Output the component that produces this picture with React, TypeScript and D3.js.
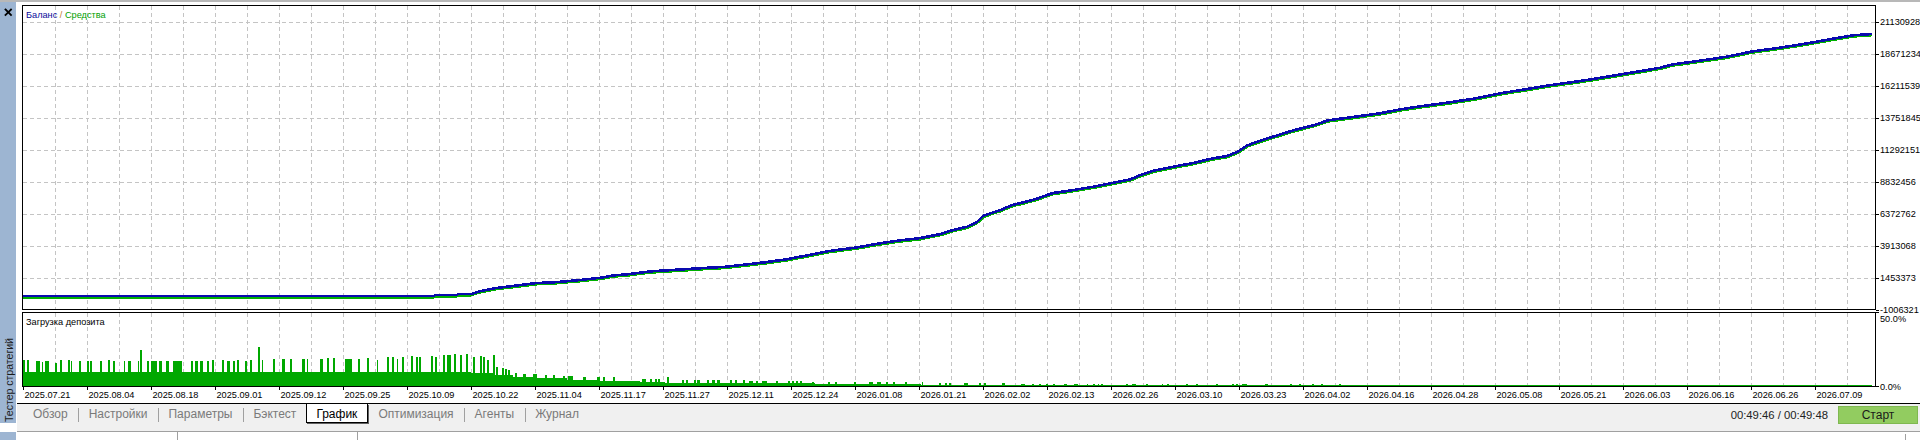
import React, { useEffect, useMemo } from 'react';
import * as d3 from 'd3';

// ---------- data ----------
const dateLabels = [
  '2025.07.21', '2025.08.04', '2025.08.18', '2025.09.01', '2025.09.12', '2025.09.25',
  '2025.10.09', '2025.10.22', '2025.11.04', '2025.11.17', '2025.11.27', '2025.12.11',
  '2025.12.24', '2026.01.08', '2026.01.21', '2026.02.02', '2026.02.13', '2026.02.26',
  '2026.03.10', '2026.03.23', '2026.04.02', '2026.04.16', '2026.04.28', '2026.05.08',
  '2026.05.21', '2026.06.03', '2026.06.16', '2026.06.26', '2026.07.09',
];

const balanceTicks = [
  21130928, 18671234, 16211539, 13751845, 11292151, 8832456, 6372762, 3913068, 1453373, -1006321,
];

const loadTicks = [50, 0];

// positions along the date axis (label units)
const curveX = [
  0, 6.42, 6.44, 6.78, 6.8, 7.0, 7.125, 7.39, 7.73, 8.02,
  8.34, 8.69, 9.02, 9.23, 9.47, 9.8, 10.25, 10.69, 10.97, 11.25,
  11.58, 11.92, 12.25, 12.59, 13.03, 13.38, 13.7, 14.02, 14.33, 14.53,
  14.75, 14.91, 15.0, 15.11, 15.27, 15.47, 15.63, 15.84, 16.0, 16.09,
  16.41, 16.72, 17.03, 17.3, 17.45, 17.66, 17.97, 18.28, 18.59, 18.81,
  18.97, 19.13, 19.33, 19.59, 19.84, 20.19, 20.39, 20.66, 21.0, 21.2,
  21.52, 21.83, 22.25, 22.66, 23.08, 23.5, 23.91, 24.33, 24.75, 25.16,
  25.58, 25.78, 26.2, 26.62, 27.03, 27.45, 27.88, 28.28, 28.59, 28.89,
];

const balance = [
  27000, 27000, 104000, 104000, 181000, 181000, 389000, 644000, 852000, 1029000,
  1106000, 1261000, 1438000, 1623000, 1723000, 1932000, 2070000, 2209000, 2286000, 2440000,
  2625000, 2857000, 3165000, 3497000, 3782000, 4090000, 4322000, 4499000, 4808000, 5116000,
  5370000, 5756000, 6195000, 6404000, 6658000, 7067000, 7252000, 7529000, 7815000, 7969000,
  8200000, 8455000, 8763000, 9025000, 9334000, 9688000, 9997000, 10282000, 10645000, 10822000,
  11130000, 11647000, 12002000, 12403000, 12788000, 13235000, 13575000, 13752000, 13983000, 14114000,
  14423000, 14654000, 14932000, 15240000, 15656000, 15988000, 16320000, 16605000, 16936000, 17276000,
  17630000, 17892000, 18170000, 18478000, 18895000, 19172000, 19512000, 19866000, 20129000, 20229000,
];

const equity = [
  -63000, -63000, 14000, 14000, 91000, 91000, 299000, 554000, 762000, 939000,
  1016000, 1171000, 1348000, 1533000, 1633000, 1842000, 1980000, 2119000, 2196000, 2350000,
  2535000, 2767000, 3075000, 3407000, 3692000, 4000000, 4232000, 4409000, 4718000, 5026000,
  5280000, 5666000, 6105000, 6314000, 6568000, 6977000, 7162000, 7439000, 7725000, 7879000,
  8110000, 8365000, 8673000, 8935000, 9244000, 9598000, 9907000, 10192000, 10555000, 10732000,
  11040000, 11557000, 11912000, 12313000, 12698000, 13145000, 13485000, 13662000, 13893000, 14024000,
  14333000, 14564000, 14842000, 15150000, 15566000, 15898000, 16230000, 16515000, 16846000, 17186000,
  17540000, 17802000, 18080000, 18388000, 18805000, 19082000, 19422000, 19776000, 20039000, 20139000,
];

// deposit load: steady level [from, to, %]
const loadBase: [number, number, number][] = [
  [0, 7.0, 9.7], [7.0, 7.34, 9.4], [7.34, 7.66, 7.9], [7.66, 7.97, 6.7], [7.97, 8.5, 5.7],
  [8.5, 9.02, 4.5], [9.02, 9.64, 3.6], [9.64, 10.03, 3.0], [10.03, 12.38, 2.3], [12.38, 14.03, 1.8],
  [14.03, 15.58, 1.35], [15.58, 20.59, 0.95], [20.59, 28.89, 0.7],
];

// deposit load peaks [from, to, %]
const loadSpikes: [number, number, number][] = [
  [0.0, 0.03, 18.0], [0.06, 0.09, 18.0], [0.2, 0.27, 17.3], [0.3, 0.31, 16.6], [0.34, 0.41, 17.3],
  [0.5, 0.53, 16.0], [0.58, 0.61, 18.0], [0.7, 0.73, 18.0], [0.75, 0.77, 17.3], [0.88, 0.91, 17.3],
  [1.0, 1.03, 17.3], [1.05, 1.08, 17.3], [1.2, 1.23, 17.3], [1.33, 1.36, 18.0], [1.41, 1.44, 17.3],
  [1.58, 1.59, 17.3], [1.64, 1.69, 17.3], [1.8, 1.81, 17.3], [1.83, 1.86, 24.7], [1.94, 1.97, 17.3],
  [2.0, 2.09, 17.3], [2.13, 2.17, 17.3], [2.23, 2.28, 17.3], [2.34, 2.48, 17.3], [2.63, 2.66, 17.3],
  [2.69, 2.73, 17.3], [2.77, 2.81, 17.3], [2.88, 2.91, 17.3], [2.95, 2.98, 18.0], [3.11, 3.14, 18.0],
  [3.19, 3.23, 17.3], [3.28, 3.31, 17.3], [3.34, 3.38, 18.0], [3.47, 3.5, 17.3], [3.55, 3.58, 18.0],
  [3.67, 3.7, 27.0], [3.73, 3.75, 18.0], [3.91, 3.94, 18.7], [4.05, 4.09, 18.7], [4.17, 4.2, 18.7],
  [4.36, 4.41, 18.7], [4.44, 4.45, 18.7], [4.64, 4.69, 18.7], [4.75, 4.78, 19.3], [4.84, 4.88, 19.3],
  [5.03, 5.14, 18.7], [5.23, 5.27, 18.7], [5.38, 5.41, 19.3], [5.53, 5.55, 18.0], [5.69, 5.72, 19.8],
  [5.77, 5.8, 20.2], [5.84, 5.86, 18.7], [5.92, 5.95, 20.2], [6.06, 6.09, 20.7], [6.14, 6.17, 20.2],
  [6.19, 6.22, 20.2], [6.38, 6.41, 20.7], [6.44, 6.47, 20.2], [6.56, 6.59, 21.4], [6.63, 6.69, 21.4],
  [6.73, 6.77, 22.0], [6.83, 6.86, 21.4], [6.92, 6.95, 22.0], [7.03, 7.06, 20.2], [7.14, 7.17, 20.7],
  [7.19, 7.22, 19.8], [7.25, 7.28, 18.0], [7.34, 7.38, 21.4], [7.39, 7.42, 13.5], [7.48, 7.52, 12.4],
  [7.53, 7.56, 11.7], [7.58, 7.61, 11.3], [7.69, 7.72, 9.4], [7.81, 7.86, 8.6], [7.97, 8.03, 8.6],
  [8.16, 8.19, 7.9], [8.28, 8.31, 7.9], [8.44, 8.47, 7.2], [8.52, 8.59, 7.2], [8.75, 8.8, 6.7],
  [8.97, 9.02, 6.7], [9.06, 9.09, 6.3], [9.22, 9.25, 6.1], [9.67, 9.73, 5.2], [9.8, 9.83, 5.2],
  [9.88, 9.91, 5.2], [9.92, 9.95, 5.2], [10.06, 10.09, 6.5], [10.3, 10.33, 4.5], [10.36, 10.39, 4.5],
  [10.48, 10.52, 4.5], [10.53, 10.58, 4.5], [10.69, 10.72, 4.5], [10.77, 10.82, 4.5], [10.85, 10.89, 4.5],
  [11.05, 11.08, 4.5], [11.13, 11.16, 4.5], [11.25, 11.28, 4.5], [11.34, 11.41, 3.8], [11.45, 11.48, 3.8],
  [11.54, 11.62, 3.8], [11.77, 11.79, 3.8], [11.95, 11.98, 3.8], [12.02, 12.05, 3.8], [12.08, 12.11, 3.8],
  [12.14, 12.17, 3.8], [12.33, 12.36, 3.2], [12.58, 12.61, 3.2], [12.69, 12.72, 3.2], [12.98, 13.02, 3.2],
  [13.22, 13.28, 3.2], [13.34, 13.41, 3.2], [13.49, 13.52, 3.2], [13.6, 13.63, 3.2], [13.78, 13.81, 3.2],
  [14.04, 14.07, 3.2], [14.31, 14.34, 2.5], [14.41, 14.44, 2.5], [14.47, 14.5, 2.5], [14.71, 14.76, 2.7],
  [14.94, 14.97, 2.5], [15.02, 15.05, 2.5], [15.3, 15.34, 2.5], [15.59, 15.65, 1.8], [15.77, 15.8, 1.8],
  [15.88, 15.91, 1.8], [15.98, 16.02, 1.8], [16.09, 16.13, 1.8], [16.27, 16.31, 1.8], [16.42, 16.48, 1.8],
  [16.62, 16.64, 1.8], [16.72, 16.75, 1.8], [16.79, 16.81, 1.8], [16.84, 16.88, 1.8], [17.23, 17.27, 1.8],
  [17.33, 17.39, 1.8], [17.55, 17.58, 1.8], [17.79, 17.82, 1.8], [17.88, 17.91, 1.8], [18.17, 18.2, 1.8],
  [18.33, 18.36, 1.8], [18.64, 18.67, 1.8], [18.89, 18.92, 1.8], [18.95, 18.98, 1.8], [19.05, 19.13, 1.8],
  [19.4, 19.45, 1.8], [19.8, 19.83, 1.6], [19.94, 19.97, 1.6], [20.14, 20.17, 1.6], [20.28, 20.31, 1.6],
  [20.56, 20.59, 1.6],
];

const tabNames = ['Обзор', 'Настройки', 'Параметры', 'Бэктест', 'График', 'Оптимизация', 'Агенты', 'Журнал'];
const selectedTab = 'График';
const timerText = '00:49:46 / 00:49:48';
const startText = 'Старт';
const sideTitle = 'Тестер стратегий';

// ---------- helpers ----------
const FONT = "'Liberation Sans', Arial, sans-serif";

function measureText(text: string, font: string): number {
  const c = document.createElement('canvas').getContext('2d');
  if (!c) return text.length * 6;
  c.font = font;
  return c.measureText(text).width;
}

const fmtPct = (v: number) => v.toFixed(1) + '%';

export default function App() {
  useEffect(() => {
    document.body.style.margin = '0';
  }, []);

  const W = 1920;
  const H = 440;
  const plotL = 22.5;
  const plotR = 1875.5;
  const mainT = 5.5;
  const mainB = 310;
  const subT = 312.5;
  const subB = 386.5;

  const x = d3.scaleLinear().domain([0, dateLabels.length - 1]).range([23, 1815]);
  const y = d3
    .scaleLinear()
    .domain([balanceTicks[balanceTicks.length - 1], balanceTicks[0]])
    .range([309.5, 22.3]);
  const yl = d3.scaleLinear().domain([0, 50]).range([subB, subT]);

  const lineGen = (vals: number[]) =>
    d3
      .line<number>()
      .x((_, i) => x(curveX[i]))
      .y((d) => y(d))(vals) || '';

  const vGrid: number[] = [];
  for (let k = 1; x(k * 0.5) < plotR - 2; k++) vGrid.push(k * 0.5);

  const tabLayout = useMemo(() => {
    const font = `12px ${FONT}`;
    const items: { name: string; x: number; w: number }[] = [];
    const seps: number[] = [];
    let cx = 33;
    tabNames.forEach((name, i) => {
      const w = measureText(name, font);
      items.push({ name, x: cx, w });
      const next = tabNames[i + 1];
      if (next === undefined) return;
      if (name === selectedTab || next === selectedTab) {
        cx = cx + w + 21;
        if (next === selectedTab) cx = cx - 1;
      } else {
        seps.push(cx + w + 10.5);
        cx = cx + w + 21;
      }
    });
    return { items, seps };
  }, []);

  const gridColor = '#c4c4c4';
  const dash = '4,3';

  return (
    <div style={{ position: 'absolute', left: 0, top: 0, width: W, height: H }}>
      <svg width={W} height={H} viewBox={`0 0 ${W} ${H}`} style={{ display: 'block', fontFamily: FONT }}>
        <defs>
          <clipPath id="mainClip">
            <rect x={plotL} y={mainT} width={plotR - plotL} height={mainB - mainT} />
          </clipPath>
          <clipPath id="subClip">
            <rect x={plotL} y={subT} width={plotR - plotL} height={subB - subT} />
          </clipPath>
        </defs>
        <rect x={0} y={0} width={W} height={H} fill="#ffffff" />
        {/* top gray rule */}
        <line x1={0} x2={W} y1={1} y2={1} stroke="#a0a0a0" strokeWidth={1.5} />

        {/* left sidebar */}
        <rect x={0} y={2} width={16} height={421} fill="#9db5d2" />
        <rect x={0} y={432} width={16} height={8} fill="#9db5d2" />
        <g stroke="#000" strokeWidth={1.8} strokeLinecap="square">
          <line x1={5.5} y1={9.5} x2={11} y2={15} />
          <line x1={11} y1={9.5} x2={5.5} y2={15} />
        </g>
        <text
          transform="translate(13,422) rotate(-90)"
          fontSize={11}
          fill="#1a1a1a"
          textLength={84}
          lengthAdjust="spacingAndGlyphs"
        >
          {sideTitle}
        </text>

        {/* gridlines */}
        <g stroke={gridColor} strokeDasharray={dash} strokeWidth={1} shapeRendering="crispEdges">
          {balanceTicks.slice(0, -1).map((t) => (
            <line key={'h' + t} x1={plotL} x2={plotR} y1={Math.round(y(t)) + 0.5} y2={Math.round(y(t)) + 0.5} />
          ))}
          {vGrid.map((u) => (
            <line key={'v' + u} x1={Math.round(x(u)) + 0.5} x2={Math.round(x(u)) + 0.5} y1={mainT} y2={mainB} />
          ))}
          {vGrid.map((u) => (
            <line key={'vs' + u} x1={Math.round(x(u)) + 0.5} x2={Math.round(x(u)) + 0.5} y1={subT} y2={subB} />
          ))}
        </g>

        {/* equity & balance */}
        <g clipPath="url(#mainClip)" fill="none" shapeRendering="crispEdges">
          <path d={lineGen(equity)} stroke="#00b000" strokeWidth={2.6} />
          <path d={lineGen(balance)} stroke="#0a0aae" strokeWidth={2.6} />
        </g>

        {/* deposit load bars */}
        <g clipPath="url(#subClip)" fill="#00a800" shapeRendering="crispEdges">
          {loadBase.map(([a, b, p], i) => (
            <rect key={'b' + i} x={x(a)} y={yl(p)} width={Math.max(1, x(b) - x(a))} height={subB - yl(p)} />
          ))}
          {loadSpikes.map(([a, b, p], i) => (
            <rect key={'s' + i} x={x(a)} y={yl(p)} width={Math.max(1, x(b) - x(a))} height={subB - yl(p)} />
          ))}
        </g>

        {/* frames */}
        <g fill="none" stroke="#000" strokeWidth={1} shapeRendering="crispEdges">
          <rect x={plotL} y={mainT} width={plotR - plotL} height={mainB - 0.5 - mainT} />
          <rect x={plotL} y={subT} width={plotR - plotL} height={subB - subT} />
        </g>

        {/* right axis ticks + labels */}
        <g stroke="#000" shapeRendering="crispEdges">
          {balanceTicks.map((t) => (
            <line key={'rt' + t} x1={plotR} x2={plotR + 3} y1={Math.round(y(t)) + 0.5} y2={Math.round(y(t)) + 0.5} />
          ))}
          {loadTicks.map((t) => (
            <line key={'lt' + t} x1={plotR} x2={plotR + 3} y1={yl(t)} y2={yl(t)} />
          ))}
          {dateLabels.map((d, i) => (
            <line key={'xt' + d} x1={Math.round(x(i)) + 0.5} x2={Math.round(x(i)) + 0.5} y1={subB} y2={subB + 3} />
          ))}
        </g>
        <g fontSize={9.2} fill="#000">
          {balanceTicks.map((t) => (
            <text key={'yl' + t} x={1880} y={y(t)} dominantBaseline="central">
              {String(t)}
            </text>
          ))}
          {loadTicks.map((t) => (
            <text key={'ll' + t} x={1880} y={Math.max(yl(t), subT + 6)} dominantBaseline="central">
              {fmtPct(t)}
            </text>
          ))}
          {dateLabels.map((d, i) => (
            <text key={'xl' + d} x={x(i) + 1.5} y={397.6}>
              {d}
            </text>
          ))}
        </g>

        {/* legends */}
        <text x={26} y={18.3} fontSize={9.2}>
          <tspan fill="#0a0a9a">Баланс</tspan>
          <tspan fill="#c07a30"> / </tspan>
          <tspan fill="#00a000">Средства</tspan>
        </text>
        <text x={26} y={325} fontSize={9.2} fill="#000">
          Загрузка депозита
        </text>

        {/* tab bar */}
        <rect x={17} y={403.5} width={W - 17} height={28} fill="#f0f0f0" />
        <line x1={17} x2={W} y1={403.5} y2={403.5} stroke="#000" strokeWidth={1.2} />
        {tabLayout.items
          .filter((t) => t.name === selectedTab)
          .map((t) => (
            <g key="sel" shapeRendering="crispEdges">
              <rect x={t.x - 10} y={403.5} width={t.w + 20} height={19} fill="#ffffff" />
              <path
                d={`M${Math.round(t.x - 10) + 0.5},404 V${422.5} H${Math.round(t.x + t.w + 10) + 0.5} V404`}
                fill="none"
                stroke="#000"
                strokeWidth={1}
              />
              <line
                x1={Math.round(t.x + t.w + 10) + 1.5}
                x2={Math.round(t.x + t.w + 10) + 1.5}
                y1={405}
                y2={423.5}
                stroke="#606060"
              />
              <line x1={Math.round(t.x - 10) + 1} x2={Math.round(t.x + t.w + 10) + 2} y1={423.5} y2={423.5} stroke="#606060" />
            </g>
          ))}
        <g stroke="#a0a0a0" shapeRendering="crispEdges">
          {tabLayout.seps.map((s, i) => (
            <line key={'sep' + i} x1={Math.round(s) + 0.5} x2={Math.round(s) + 0.5} y1={407.5} y2={421.5} />
          ))}
        </g>
        <g fontSize={12}>
          {tabLayout.items.map((t) => (
            <text key={t.name} x={t.x} y={417.6} fill={t.name === selectedTab ? '#000' : '#7a7a7a'}>
              {t.name}
            </text>
          ))}
        </g>
        <text x={1828} y={419} fontSize={11.3} fill="#222" textAnchor="end">
          {timerText}
        </text>
        <rect x={1838} y={406} width={80} height={18} fill="#92cc60" />
        <rect x={1838.5} y={406.5} width={79} height={17} fill="none" stroke="#7fb850" strokeWidth={1} />
        <text x={1878} y={419.3} fontSize={12} fill="#1a1a1a" textAnchor="middle">
          {startText}
        </text>

        {/* status bar */}
        <line x1={17} x2={W} y1={431.5} y2={431.5} stroke="#a0a0a0" />
        <g stroke="#a0a0a0" shapeRendering="crispEdges">
          <line x1={177.5} x2={177.5} y1={432} y2={440} />
          <line x1={357.5} x2={357.5} y1={432} y2={440} />
          <line x1={1905.5} x2={1905.5} y1={434} y2={440} />
        </g>
      </svg>
    </div>
  );
}
